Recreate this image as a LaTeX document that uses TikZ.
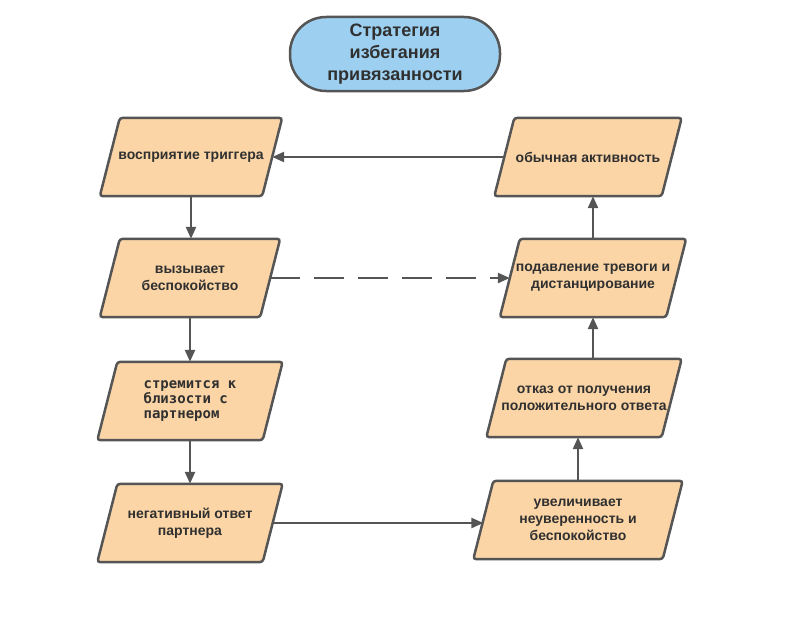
\documentclass[tikz,border=0pt]{standalone}
\usepackage{fontspec}
\setmainfont{Liberation Sans}
\newfontfamily\monofont{DejaVu Sans Mono}
\usetikzlibrary{arrows.meta,backgrounds}
\definecolor{peach}{RGB}{251,213,166}
\definecolor{skyblue}{RGB}{157,208,240}
\definecolor{linegray}{RGB}{85,85,85}
\definecolor{txtgray}{RGB}{48,48,48}
\tikzset{
  para/.style={minimum height=78pt,inner sep=2pt,align=center,
    text=txtgray,font=\bfseries\fontsize{14}{17}\selectfont},
  parabox/.style={draw=linegray,fill=peach,line width=2.5pt,rounded corners=3pt},
  arr/.style={->,draw=linegray,line width=2.5pt},
}
\begin{document}
\begin{tikzpicture}[x=1pt,y=-1pt,>={Triangle[length=12pt,width=10pt]},line join=round]
			\useasboundingbox (0,0) rectangle (800,618);
			\node[draw=linegray,fill=skyblue,line width=2.5pt,rounded corners=36pt,minimum width=210pt,
			minimum height=74pt,align=center,text=txtgray,font=\bfseries\fontsize{18}{22}\selectfont]
			(title) at (395,54) {Стратегия\\избегания\\привязанности};
			% left column
			\node[para,minimum width=162pt] (trig) at (191,157) {восприятие триггера};
			\node[para,minimum width=160pt] (worry) at (190,278) {вызывает\\беспокойство};
			\node[para,minimum width=165pt,align=left,font=\bfseries\monofont\fontsize{14}{15}\selectfont]
			(close) at (190,401) {стремится к\\близости с\\партнером};
			\node[para,minimum width=165pt] (neg) at (190,523) {негативный ответ\\партнера};
			% right column
			\node[para,minimum width=167pt] (act) at (588,157) {обычная активность};
			\node[para,minimum width=166pt] (supp) at (593,278) {подавление тревоги и\\дистанцирование};
			\node[para,minimum width=175pt] (refuse) at (584,398) {отказ от получения\\положительного ответа};
			\node[para,minimum width=189pt] (inc) at (578,520) {увеличивает\\неуверенность и\\беспокойство};
			% parallelograms behind the texts
			\begin{scope}[on background layer]
			\foreach \n in {trig,worry,close,neg,act,supp,refuse,inc}
				\draw[parabox] ([xshift=10pt]\n.north west) -- ([xshift=10pt]\n.north east)
				-- ([xshift=-10pt]\n.south east) -- ([xshift=-10pt]\n.south west) -- cycle;
			\end{scope}
			% connectors
			\draw[arr] (act) -- (trig);
			\draw[arr] (trig.south) -- (trig.south |- worry.north);
			\draw[arr] (worry.south) -- (worry.south |- close.north);
			\draw[arr] (close.south) -- (close.south |- neg.north);
			\draw[arr] (neg.east) -- (inc.west |- neg.east);
			\draw[arr] (inc.north) -- (inc.north |- refuse.south);
			\draw[arr] (refuse.north -| supp.south) -- (supp.south);
			\draw[arr] (supp.north) -- (supp.north |- act.south);
			\draw[arr,dash pattern=on 30pt off 14pt] (worry.east) -- (supp.west);
		\end{tikzpicture}
\end{document}
